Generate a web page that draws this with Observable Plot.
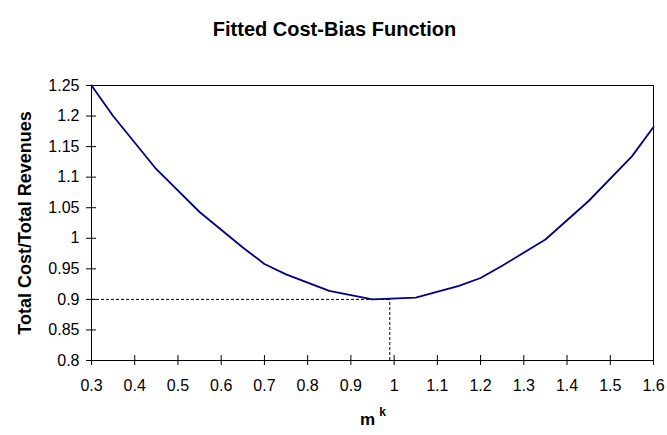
<!DOCTYPE html>
<html><head><meta charset="utf-8">
<script src="https://cdn.jsdelivr.net/npm/d3@7"></script>
<script src="https://cdn.jsdelivr.net/npm/@observablehq/plot@0.6"></script>
<style>body{margin:0;background:#fff}</style>
</head><body><div id="chart"></div>
<script>
const title = "Fitted Cost-Bias Function";
const yLabel = "Total Cost/Total Revenues";
const xLabelBase = "m";
const xLabelSup = "k";
const mk = [0.3, 0.35, 0.45, 0.55, 0.65, 0.7, 0.75, 0.85, 0.95, 1.05, 1.15, 1.2, 1.25, 1.35, 1.45, 1.55, 1.6];
const ratio = [1.25, 1.2, 1.113, 1.043, 0.985, 0.958, 0.941, 0.914, 0.900, 0.903, 0.922, 0.935, 0.955, 0.998, 1.061, 1.134, 1.182];
const xTicks = [0.3, 0.4, 0.5, 0.6, 0.7, 0.8, 0.9, 1.0, 1.1, 1.2, 1.3, 1.4, 1.5, 1.6];
const yTicks = [0.8, 0.85, 0.9, 0.95, 1.0, 1.05, 1.1, 1.15, 1.2, 1.25];
const minX = 0.99, minY = 0.9;
const xMin = 0.3, xMax = 1.6, yMin = 0.8, yMax = 1.25;

const data = mk.map((x, i) => ({x, y: ratio[i]}));
const fmt = d3.format("~g");
const blank = () => "";

const chart = Plot.plot({
  width: 667, height: 435,
  marginLeft: 91, marginRight: 14, marginTop: 85, marginBottom: 75,
  style: {fontFamily: "'Liberation Sans', Arial, sans-serif", fontSize: "16px", background: "#fff", color: "#000", overflow: "visible"},
  x: {domain: [xMin, xMax], axis: null, label: null},
  y: {domain: [yMin, yMax], axis: null, label: null},
  marks: [
    Plot.ruleY([minY], {x1: xMin, x2: minX, stroke: "#000", strokeWidth: 1, strokeDasharray: "3,2"}),
    Plot.ruleX([minX], {y1: yMin, y2: minY, stroke: "#000", strokeWidth: 1, strokeDasharray: "3,2"}),
    Plot.frame({stroke: "#000", strokeWidth: 1}),
    Plot.axisX({ticks: xTicks, tickSize: 10, dy: -5, tickFormat: blank, label: null, stroke: "#000"}),
    Plot.axisX({ticks: xTicks, tickSize: 0, tickPadding: 19, tickFormat: fmt, label: null, fontSize: 16}),
    Plot.axisY({ticks: yTicks, tickSize: 10, dx: 5, tickFormat: blank, label: null, stroke: "#000"}),
    Plot.axisY({ticks: yTicks, tickSize: 0, tickPadding: 12, tickFormat: fmt, label: null, fontSize: 16}),
    Plot.line(data, {x: "x", y: "y", stroke: "#000080", strokeWidth: 1.8}),
    Plot.text([title], {frameAnchor: "top", dx: -38, dy: -64, fontWeight: "bold", fontSize: 20}),
    Plot.text([yLabel], {frameAnchor: "left", textAnchor: "middle", dx: -66, rotate: -90, fontWeight: "bold", fontSize: 18}),
    Plot.text([xLabelBase], {frameAnchor: "bottom", dx: -5, dy: 64, fontWeight: "bold", fontSize: 17}),
    Plot.text([xLabelSup], {frameAnchor: "bottom", dx: 10, dy: 55, fontWeight: "bold", fontSize: 12})
  ]
});
document.getElementById("chart").appendChild(chart);
</script>
</body></html>
